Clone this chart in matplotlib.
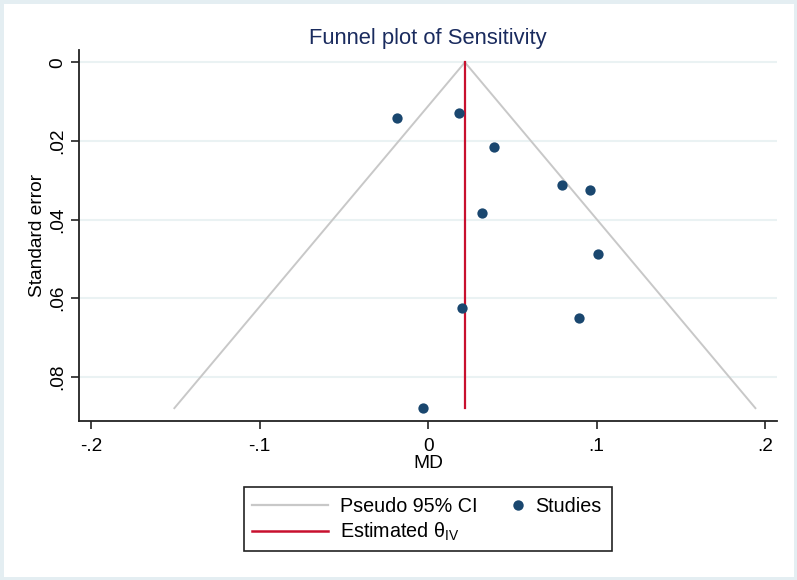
import numpy as np
import matplotlib
matplotlib.use("Agg")
import matplotlib.pyplot as plt
from matplotlib.lines import Line2D
from matplotlib.patches import Rectangle

plt.rcParams['font.family'] = ['Liberation Sans', 'DejaVu Sans']
plt.rcParams['mathtext.fontset'] = 'custom'
plt.rcParams['mathtext.rm'] = 'Liberation Sans'

# study estimates (MD) and their standard errors
md = [-0.0188, 0.0186, 0.0388, 0.0796, 0.0960, 0.0319, 0.1008, 0.0198, 0.0897, -0.0033]
se = [0.0141, 0.0129, 0.0215, 0.0313, 0.0326, 0.0384, 0.0487, 0.0625, 0.0650, 0.0880]

# pooled estimate and funnel depth
theta = 0.0218
se_max = 0.0880

x_ticks = [-0.2, -0.1, 0, 0.1, 0.2]
x_labels = ['-.2', '-.1', '0', '.1', '.2']
y_ticks = [0, 0.02, 0.04, 0.06, 0.08]
y_labels = ['0', '.02', '.04', '.06', '.08']

navy = '#1a476f'
grid_col = '#eaf2f3'
ci_col = '#c8c8c8'
red = '#c8102e'
ink = '#222222'

W, H = 797, 580
fig = plt.figure(figsize=(W / 100, H / 100), dpi=100)
fig.patch.set_facecolor('white')
# thin light border like stata's outer region
fig.add_artist(Rectangle((0, 0), 1, 1, transform=fig.transFigure,
                         fill=False, edgecolor='#e4eef2', linewidth=5))

ax = fig.add_axes([79 / W, 1 - 421 / H, 698 / W, 371 / H])

# horizontal grid
for t in y_ticks:
    ax.axhline(t, color=grid_col, lw=1.5, zorder=0)

# pseudo 95% CI funnel
se_line = np.array([0, se_max])
ax.plot(theta - 1.96 * se_line, se_line, color=ci_col, lw=1.4, zorder=1)
ax.plot(theta + 1.96 * se_line, se_line, color=ci_col, lw=1.4, zorder=1)

# estimated effect line
ax.plot([theta, theta], [0, se_max], color=red, lw=1.6, zorder=2)

# studies
ax.scatter(md, se, s=55, color=navy, zorder=3, linewidths=0)

ax.set_xlim(-0.2073, 0.2071)
ax.set_ylim(0.09127, -0.00313)

ax.set_xticks(x_ticks)
ax.set_xticklabels(x_labels, fontsize=13.7)
ax.set_yticks(y_ticks)
ax.set_yticklabels(y_labels, fontsize=13.7, rotation=90, va='center')

ax.tick_params(direction='out', length=5.5, width=1.2, color=ink, pad=4)
ax.tick_params(axis='x', pad=6.5)
for s in ['top', 'right']:
    ax.spines[s].set_visible(False)
for s in ['left', 'bottom']:
    ax.spines[s].set_linewidth(1.3)
    ax.spines[s].set_color(ink)

ax.set_xlabel('MD', fontsize=13.8, labelpad=0)
ax.set_ylabel('Standard error', fontsize=13.8, labelpad=2)
ax.set_title('Funnel plot of Sensitivity', fontsize=15.8, color='#1a2b5e', pad=4.5)

# legend: two frameless legends inside one box
leg_fs = 14.2
leg1 = fig.legend([Line2D([], [], color=ci_col, lw=1.6),
                   Line2D([], [], color=red, lw=1.8)],
                  ['Pseudo 95% CI', r'Estimated θ$_{\mathrm{IV}}$'],
                  loc='center left', bbox_to_anchor=(251.7 / W, 1 - 520 / H),
                  fontsize=leg_fs, frameon=False, borderpad=0, borderaxespad=0,
                  handlelength=3.86, handletextpad=0.62, labelspacing=0.25)
leg2 = fig.legend([Line2D([], [], marker='o', color=navy, linestyle='none',
                          markersize=7.5, markeredgewidth=0)],
                  ['Studies'],
                  loc='center left', bbox_to_anchor=(509.8 / W, 1 - 506 / H),
                  fontsize=leg_fs, frameon=False, borderpad=0, borderaxespad=0,
                  handlelength=0.8, handletextpad=0.48)
fig.add_artist(Rectangle((244 / W, 1 - 551 / H), 367.7 / W, 64.3 / H,
                         transform=fig.transFigure, fill=False,
                         edgecolor=ink, linewidth=1.2))

fig.savefig('out.png', dpi=100)
